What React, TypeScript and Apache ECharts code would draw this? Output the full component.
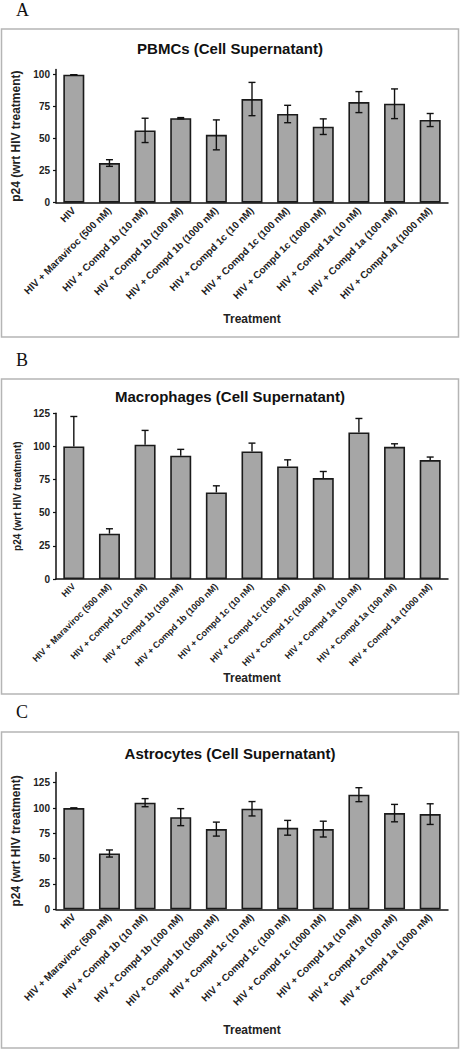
import React, { useEffect, useRef } from "react";
import * as echarts from "echarts";

const categories = [
  "HIV",
  "HIV + Maraviroc (500 nM)",
  "HIV + Compd 1b (10 nM)",
  "HIV + Compd 1b (100 nM)",
  "HIV + Compd 1b (1000 nM)",
  "HIV + Compd 1c (10 nM)",
  "HIV + Compd 1c (100 nM)",
  "HIV + Compd 1c (1000 nM)",
  "HIV + Compd 1a (10 nM)",
  "HIV + Compd 1a (100 nM)",
  "HIV + Compd 1a (1000 nM)",
];

const pbmcValues = [100, 31, 56.5, 66, 53, 81, 69.3, 59.4, 78.6, 77.3, 64.6];
const pbmcErrors = [0, 2.6, 9.5, 0.5, 11.7, 13, 6.8, 6.1, 8.2, 11.6, 5.1];

const macValues = [100, 34.2, 101.3, 93, 65.3, 96.2, 84.9, 76.1, 110.6, 99.7, 89.7];
const macErrors = [22.6, 3.7, 10.8, 4.8, 5, 6.3, 5, 5, 10.5, 2.3, 2.3];

const astroValues = [100, 55.1, 105.3, 91, 79.2, 99.3, 80.5, 79.2, 113.2, 95, 94];
const astroErrors = [0, 3.5, 4, 8.4, 6.9, 7.1, 7.3, 7.8, 6.9, 8.6, 10.2];

const panelTitles = [
  "PBMCs (Cell Supernatant)",
  "Macrophages (Cell Supernatant)",
  "Astrocytes (Cell Supernatant)",
];
const panelLetters = ["A", "B", "C"];
const yTicks = [0, 25, 50, 75, 100, 125];
const yAxisName = "p24 (wrt HIV treatment)";
const xAxisName = "Treatment";

export default function App() {
  const ref = useRef<HTMLDivElement>(null);

  useEffect(() => {
    if (!ref.current) return;
    const chart = echarts.init(ref.current, null, { renderer: "svg" });

    const panels = [
      { values: pbmcValues, errors: pbmcErrors, both: true, top: 69.6, height: 133.1, max: 104, frameTop: 29, frameBottom: 337, titleY: 48, letterY: 1, xGap: 110, yGap: 22, yNameSize: 12, xLabelSize: 10 },
      { values: macValues, errors: macErrors, both: false, top: 413.3, height: 165.7, max: 125, frameTop: 379, frameBottom: 694, titleY: 396, letterY: 351, xGap: 93, yGap: 24, yNameSize: 10, xLabelSize: 9 },
      { values: astroValues, errors: astroErrors, both: true, top: 772.6, height: 136.7, max: 135, frameTop: 732, frameBottom: 1048, titleY: 753, letterY: 703, xGap: 115, yGap: 22, yNameSize: 12, xLabelSize: 10 },
    ];

    const grid: any[] = [];
    const xAxis: any[] = [];
    const yAxis: any[] = [];
    const series: any[] = [];
    const graphic: any[] = [];

    panels.forEach((p, i) => {
      grid.push({ left: 56, width: 392, top: p.top, height: p.height });
      xAxis.push({
        type: "category",
        gridIndex: i,
        data: categories,
        axisLine: { lineStyle: { color: "#111", width: 1.5 } },
        axisTick: { show: false },
        axisLabel: {
          rotate: 45,
          interval: 0,
          fontFamily: "Liberation Sans",
          fontWeight: "bold",
          fontSize: p.xLabelSize,
          color: "#222",
          margin: 6,
        },
        name: xAxisName,
        nameLocation: "middle",
        nameGap: p.xGap,
        nameTextStyle: { fontFamily: "Liberation Sans", fontWeight: "bold", fontSize: 12, color: "#222" },
      });
      yAxis.push({
        type: "value",
        gridIndex: i,
        min: 0,
        max: p.max,
        interval: 25,
        splitLine: { show: false },
        axisLine: { show: true, lineStyle: { color: "#111", width: 1.5 } },
        axisTick: { show: true, length: 3, lineStyle: { color: "#111", width: 1.2 } },
        axisLabel: {
          showMaxLabel: p.max % 25 === 0,
          fontFamily: "Liberation Sans",
          fontWeight: "bold",
          fontSize: 10,
          color: "#222",
          margin: 6,
          formatter: (v: number) => (yTicks.indexOf(v) >= 0 ? String(v) : ""),
        },
        name: yAxisName,
        nameLocation: "middle",
        nameGap: p.yGap,
        nameTextStyle: { fontFamily: "Liberation Sans", fontWeight: "bold", fontSize: p.yNameSize, color: "#222" },
      });
      series.push({
        type: "bar",
        xAxisIndex: i,
        yAxisIndex: i,
        data: p.values,
        barWidth: 21,
        itemStyle: { color: "#a6a6a6", borderColor: "#1a1a1a", borderWidth: 1.6 },
        z: 2,
      });
      const errData = p.values.map((v, k) => [
        k,
        p.both ? v - p.errors[k] : v,
        v + p.errors[k],
        p.both ? 1 : 0,
      ]);
      series.push({
        type: "custom",
        xAxisIndex: i,
        yAxisIndex: i,
        data: errData,
        encode: { x: 0, y: [1, 2] },
        z: 5,
        renderItem: (params: any, api: any) => {
          const x = api.value(0);
          const lo = api.value(1);
          const hi = api.value(2);
          const both = api.value(3);
          const pLo = api.coord([x, lo]);
          const pHi = api.coord([x, hi]);
          const cap = 3.5;
          const style = { stroke: "#111", lineWidth: 1.4 };
          const children: any[] = [
            { type: "line", shape: { x1: pLo[0], y1: pLo[1], x2: pHi[0], y2: pHi[1] }, style },
            { type: "line", shape: { x1: pHi[0] - cap, y1: pHi[1], x2: pHi[0] + cap, y2: pHi[1] }, style },
          ];
          if (both) {
            children.push({ type: "line", shape: { x1: pLo[0] - cap, y1: pLo[1], x2: pLo[0] + cap, y2: pLo[1] }, style });
          }
          return { type: "group", children };
        },
      });

      graphic.push({
        type: "rect",
        shape: { x: 1.5, y: p.frameTop, width: 457, height: p.frameBottom - p.frameTop },
        style: { fill: "none", stroke: "#b5b5b5", lineWidth: 1.5 },
        z: 0,
      });
      graphic.push({
        type: "text",
        x: 230,
        y: p.titleY,
        style: {
          text: panelTitles[i],
          fontFamily: "Liberation Sans",
          fontWeight: "bold",
          fontSize: 15,
          fill: "#111",
          textAlign: "center",
          textVerticalAlign: "middle",
        },
      });
      graphic.push({
        type: "text",
        x: 16,
        y: p.letterY,
        style: {
          text: panelLetters[i],
          fontFamily: "Liberation Serif",
          fontSize: 18,
          fill: "#111",
        },
      });
    });

    chart.setOption({
      animation: false,
      backgroundColor: "#ffffff",
      grid,
      xAxis,
      yAxis,
      series,
      graphic,
    });

    return () => chart.dispose();
  }, []);

  return (
    <div
      ref={ref}
      style={{ position: "absolute", left: 0, top: 0, width: 460, height: 1050 }}
    />
  );
}
